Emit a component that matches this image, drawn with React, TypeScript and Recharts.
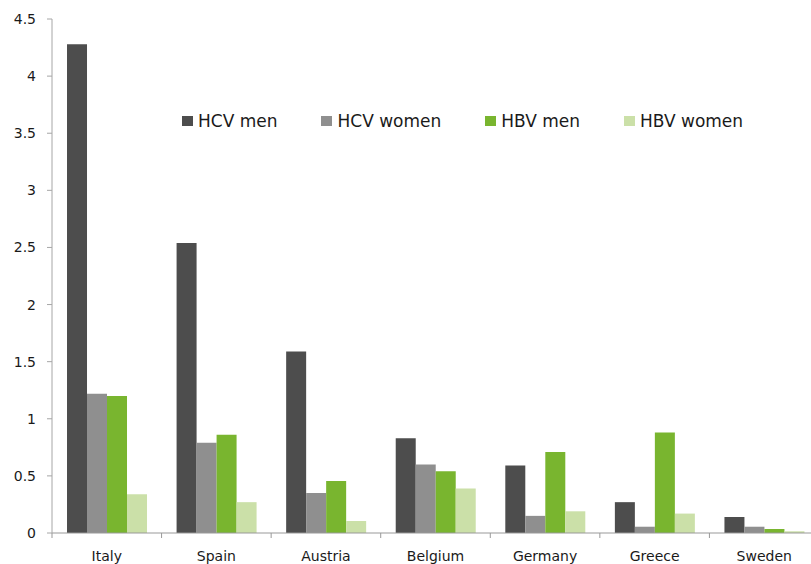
import React from 'react';
import { BarChart, Bar, XAxis, YAxis, Legend } from 'recharts';

const countries = ['Italy', 'Spain', 'Austria', 'Belgium', 'Germany', 'Greece', 'Sweden'];
const hcvMen = [4.28, 2.54, 1.59, 0.83, 0.59, 0.27, 0.14];
const hcvWomen = [1.22, 0.79, 0.35, 0.6, 0.15, 0.055, 0.055];
const hbvMen = [1.2, 0.86, 0.455, 0.54, 0.71, 0.88, 0.035];
const hbvWomen = [0.34, 0.27, 0.105, 0.39, 0.19, 0.17, 0.015];
const yTicks = [0, 0.5, 1, 1.5, 2, 2.5, 3, 3.5, 4, 4.5];

const series = [
  { key: 'hcvMen', name: 'HCV men', color: '#4d4d4d' },
  { key: 'hcvWomen', name: 'HCV women', color: '#8f8f8f' },
  { key: 'hbvMen', name: 'HBV men', color: '#79b52f' },
  { key: 'hbvWomen', name: 'HBV women', color: '#cbe0a8' },
];

const data = countries.map((c, i) => ({
  country: c,
  hcvMen: hcvMen[i],
  hcvWomen: hcvWomen[i],
  hbvMen: hbvMen[i],
  hbvWomen: hbvWomen[i],
}));

const FONT = '"DejaVu Sans", Verdana, sans-serif';
const PLOT_W = 767;

const CategoryTick = (props: any) => {
  const { x, y, payload, index } = props;
  const half = payload && typeof payload.offset === 'number' && payload.offset > 0 ? payload.offset : PLOT_W / countries.length / 2;
  const axisY = y - 18;
  return (
    <g>
      <line x1={x - half} x2={x - half} y1={axisY} y2={axisY + 5} stroke="#999999" />
      {index === countries.length - 1 ? (
        <line x1={x + half} x2={x + half} y1={axisY} y2={axisY + 5} stroke="#999999" />
      ) : null}
      <text x={x} y={y} dy="0.71em" textAnchor="middle" fontFamily={FONT} fontSize={14} fill="#1a1a1a">
        {payload.value}
      </text>
    </g>
  );
};

const renderLegend = () => (
  <div style={{ display: 'flex', flexDirection: 'row', alignItems: 'center', fontFamily: FONT, fontSize: 17, color: '#1a1a1a', whiteSpace: 'nowrap' }}>
    {series.map((s, i) => (
      <div key={s.key} style={{ display: 'flex', alignItems: 'center', marginRight: i < series.length - 1 ? 44 : 0 }}>
        <span style={{ display: 'inline-block', width: 11, height: 10, background: s.color, marginRight: 5 }} />
        <span style={{ lineHeight: '20px' }}>{s.name}</span>
      </div>
    ))}
  </div>
);

export default function App() {
  return (
    <div style={{ position: 'absolute', left: 0, top: 0, width: 811, height: 564, overflow: 'hidden', background: '#fff' }}>
      <BarChart
        width={820}
        height={564}
        data={data}
        margin={{ top: 19, right: 1, bottom: 0, left: 0 }}
        barCategoryGap="13.7%"
        barGap={0}
      >
        <XAxis
          dataKey="country"
          height={31}
          tickLine={false}
          tickSize={5}
          tickMargin={13}
          axisLine={{ stroke: '#999999' }}
          interval={0}
          tick={<CategoryTick />}
        />
        <YAxis
          width={52}
          domain={[0, 4.5]}
          ticks={yTicks}
          interval={0}
          tickSize={5}
          tickMargin={11}
          axisLine={{ stroke: '#a6a6a6' }}
          tickLine={{ stroke: '#a6a6a6' }}
          tick={{ fontFamily: FONT, fontSize: 14, fill: '#1a1a1a' }}
        />
        <Legend
          layout="horizontal"
          verticalAlign="middle"
          align="center"
          content={renderLegend}
          wrapperStyle={{ top: 111, left: 182, width: 'auto' }}
        />
        {series.map((s) => (
          <Bar key={s.key} dataKey={s.key} name={s.name} fill={s.color} isAnimationActive={false} />
        ))}
      </BarChart>
    </div>
  );
}
